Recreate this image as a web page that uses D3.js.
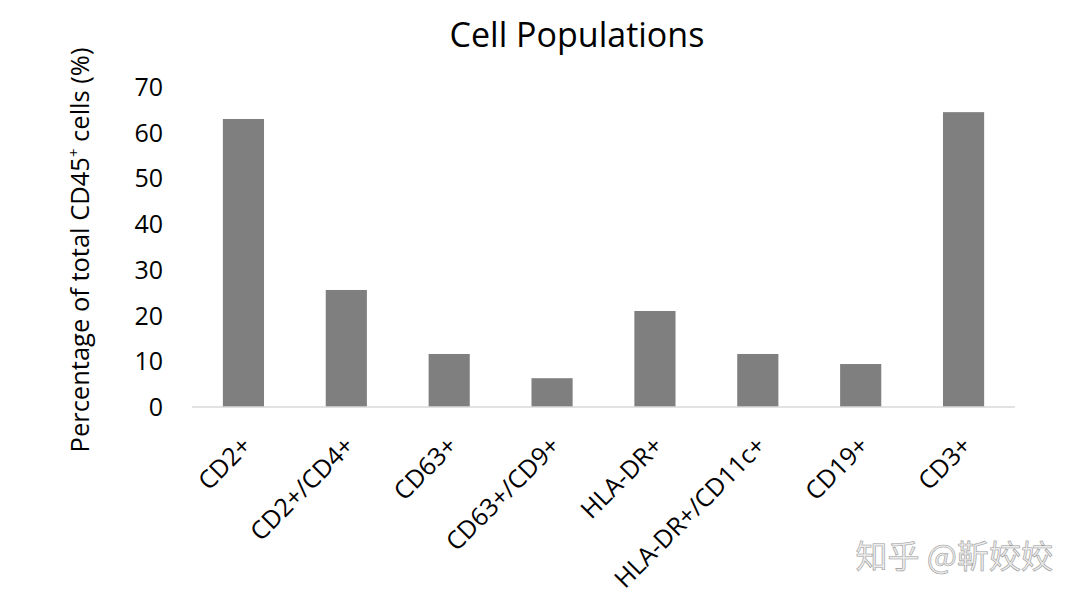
<!DOCTYPE html>
<html>
<head>
<meta charset="utf-8">
<script src="https://cdn.jsdelivr.net/npm/d3@7"></script>
<style>
  body { margin: 0; background: #fff; }
  text { font-family: "Open Sans", "Liberation Sans", sans-serif; fill: #000; }
</style>
</head>
<body>
<svg id="chart" width="1080" height="601"></svg>
<script>
var categories = ["CD2+", "CD2+/CD4+", "CD63+", "CD63+/CD9+", "HLA-DR+", "HLA-DR+/CD11c+", "CD19+", "CD3+"];
var values = [63.0, 25.6, 11.6, 6.3, 21.0, 11.6, 9.4, 64.5];
var yTicks = [0, 10, 20, 30, 40, 50, 60, 70];

var svg = d3.select("#chart");
var plotLeft = 192, plotRight = 1015, plotTop = 87, plotBottom = 407;

var x = d3.scaleBand()
  .domain(categories)
  .range([plotLeft, plotRight])
  .paddingInner(0.6)
  .paddingOuter(0.3);

var y = d3.scaleLinear()
  .domain([0, 70])
  .range([plotBottom, plotTop]);

// title
svg.append("text")
  .attr("x", 577)
  .attr("y", 47)
  .attr("text-anchor", "middle")
  .style("font-size", "34px")
  .text("Cell Populations");

// y tick labels
svg.selectAll(".ytick")
  .data(yTicks)
  .enter().append("text")
  .attr("class", "ytick")
  .attr("x", 163)
  .attr("y", function(d) { return y(d); })
  .attr("dy", "0.36em")
  .attr("text-anchor", "end")
  .style("font-size", "25px")
  .text(function(d) { return d; });

// y axis title
var yt = svg.append("text")
  .attr("transform", "translate(89,250) rotate(-90)")
  .attr("text-anchor", "middle")
  .style("font-size", "25.5px");
yt.append("tspan").text("Percentage of total CD45");
yt.append("tspan").attr("baseline-shift", "super").style("font-size", "15px").text("+");
yt.append("tspan").text(" cells (%)");

// bars
svg.selectAll(".bar")
  .data(values)
  .enter().append("rect")
  .attr("class", "bar")
  .attr("x", function(d, i) { return x(categories[i]); })
  .attr("y", function(d) { return y(d); })
  .attr("width", x.bandwidth())
  .attr("height", function(d) { return y(0) - y(d); })
  .attr("fill", "#7f7f7f");

// x axis line
svg.append("line")
  .attr("x1", plotLeft)
  .attr("x2", plotRight)
  .attr("y1", y(0))
  .attr("y2", y(0))
  .attr("stroke", "#d9d9d9")
  .attr("stroke-width", 1.5);

// x labels
svg.selectAll(".xlab")
  .data(categories)
  .enter().append("text")
  .attr("class", "xlab")
  .attr("transform", function(d) {
    var cx = x(d) + x.bandwidth() / 2 - 3;
    return "translate(" + cx + ",435) rotate(-45)";
  })
  .attr("text-anchor", "end")
  .attr("dy", "0.7em")
  .style("font-size", "25px")
  .text(function(d) { return d; });

// watermark
svg.append("text")
  .attr("x", 1053)
  .attr("y", 568)
  .attr("text-anchor", "end")
  .style("font-size", "32px")
  .style("fill", "#ececec")
  .style("stroke", "#9a9a9a")
  .style("stroke-width", 0.6)
  .style("font-family", "Noto Sans CJK SC")
  .text("知乎 @靳姣姣");
</script>
</body>
</html>
